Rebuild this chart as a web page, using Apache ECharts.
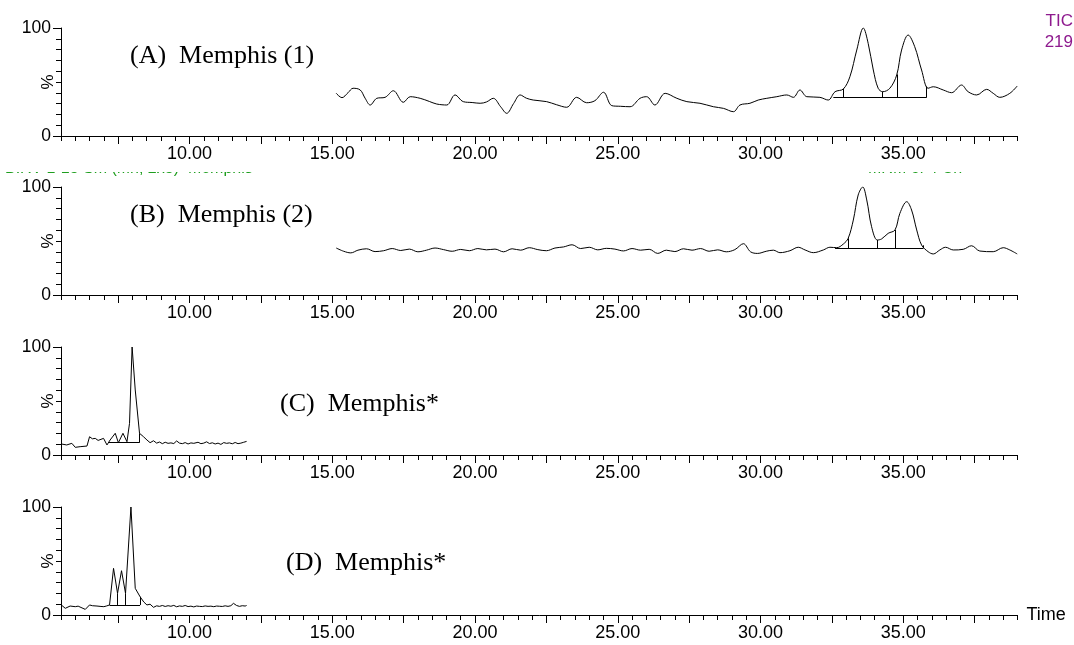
<!DOCTYPE html>
<html>
<head>
<meta charset="utf-8">
<script src="https://cdn.jsdelivr.net/npm/echarts@6/dist/echarts.min.js"></script>
<style>
  html, body { margin: 0; padding: 0; background: #fff; }
  #chart { width: 1074px; height: 645px; }
</style>
</head>
<body>
<div id="chart"></div>
<script>
// Retention time range (min) shared by all four chromatograms
const timeMin = 5.5;
const timeMax = 39.0;
const timeLabels = [10, 15, 20, 25, 30, 35];
const timeMajorTicks = [7.5, 10, 12.5, 15, 17.5, 20, 22.5, 25, 27.5, 30, 32.5, 35, 37.5];
const pctLabels = [0, 100];
const pctMinorTicks = [10, 20, 30, 40, 50, 60, 70, 80, 90];

const panelTitles = ['(A)  Memphis (1)', '(B)  Memphis (2)', '(C)  Memphis*', '(D)  Memphis*'];

// Panel A trace: [time, % intensity]
const traceA = [
  [15.14, 39.5], [15.34, 35.5], [15.55, 40.0], [15.73, 44.2], [15.98, 42.6], [16.15, 35.0],
  [16.33, 28.7], [16.56, 34.9], [16.85, 35.8], [17.14, 41.9], [17.49, 31.2], [17.73, 36.4],
  [18.08, 34.9], [18.40, 32.0], [18.66, 29.6], [19.01, 28.7], [19.30, 38.0], [19.59, 31.8],
  [19.90, 31.0], [20.18, 30.3], [20.40, 31.5], [20.64, 34.9], [20.90, 27.0], [21.11, 21.0],
  [21.35, 30.0], [21.58, 38.0], [21.80, 35.0], [22.04, 33.3], [22.51, 31.8], [22.85, 29.0],
  [23.21, 26.6], [23.56, 35.8], [23.91, 30.8], [24.20, 32.7], [24.50, 40.5], [24.79, 28.1],
  [25.10, 27.5], [25.43, 27.1], [25.78, 34.9], [26.01, 36.4], [26.30, 28.7], [26.66, 39.5],
  [27.07, 34.9], [27.42, 31.8], [27.88, 30.3], [28.35, 27.1], [28.70, 25.6], [29.05, 22.5],
  [29.28, 28.7], [29.63, 30.3], [29.92, 33.3], [30.22, 34.9], [30.57, 36.4], [30.92, 38.0],
  [31.15, 35.8], [31.38, 42.6], [31.62, 36.4], [32.08, 35.8], [32.37, 33.3], [32.61, 41.0],
  [32.90, 43.5], [33.13, 54.9], [33.37, 79.6], [33.60, 100], [33.77, 85.8], [33.95, 61.1],
  [34.12, 44.2], [34.28, 41.0], [34.53, 44.2], [34.77, 56.5], [34.94, 79.6], [35.17, 93.5],
  [35.40, 82.7], [35.64, 61.1], [35.87, 44.2], [36.05, 45.6], [36.40, 42.6], [36.69, 40.1],
  [37.04, 47.2], [37.27, 41.0], [37.57, 38.0], [37.92, 43.2], [38.15, 39.5], [38.38, 35.8],
  [38.73, 39.5], [38.99, 46.3]
];

// Panel B trace
const traceB = [
  [15.14, 43.5], [15.40, 40.5], [15.65, 39.0], [15.90, 41.5], [16.20, 42.8], [16.50, 40.2],
  [16.80, 41.0], [17.10, 43.0], [17.40, 41.2], [17.70, 42.5], [18.00, 40.0], [18.30, 41.5],
  [18.60, 43.5], [18.90, 42.0], [19.20, 40.5], [19.50, 42.2], [19.80, 41.0], [20.10, 43.0],
  [20.40, 41.8], [20.70, 42.5], [21.00, 40.0], [21.30, 42.8], [21.60, 41.5], [21.90, 43.8],
  [22.20, 42.0], [22.50, 41.0], [22.80, 43.5], [23.10, 44.5], [23.40, 46.5], [23.70, 43.0],
  [24.00, 44.2], [24.30, 41.8], [24.60, 43.2], [24.90, 42.5], [25.20, 40.8], [25.50, 43.0],
  [25.80, 41.5], [26.10, 42.3], [26.40, 38.5], [26.70, 41.5], [27.00, 40.2], [27.30, 42.8],
  [27.60, 41.5], [27.90, 43.0], [28.20, 40.5], [28.50, 41.8], [28.80, 40.0], [29.10, 42.0],
  [29.40, 47.5], [29.65, 40.0], [29.90, 38.5], [30.20, 40.5], [30.45, 41.5], [30.68, 39.2],
  [31.03, 41.0], [31.32, 44.2], [31.56, 41.7], [31.85, 39.2], [32.20, 41.7], [32.43, 44.2],
  [32.67, 43.8], [32.90, 47.2], [33.07, 52.5], [33.25, 69.4], [33.42, 92.6], [33.58, 100],
  [33.72, 88.0], [33.89, 63.2], [34.09, 50.9], [34.24, 51.9], [34.47, 57.1], [34.71, 60.2],
  [34.88, 75.6], [35.12, 86.4], [35.29, 78.7], [35.47, 60.2], [35.64, 46.3], [35.87, 40.1],
  [36.05, 38.0], [36.28, 41.7], [36.48, 44.2], [36.75, 41.7], [37.10, 42.3], [37.39, 45.6],
  [37.68, 40.7], [38.15, 40.1], [38.50, 43.8], [38.73, 41.7], [38.99, 38.0]
];

// Panel C trace
const traceC = [
  [5.51, 10.2], [5.70, 9.3], [5.88, 10.8], [6.00, 7.1], [6.17, 7.7], [6.41, 8.3], [6.50, 16.9],
  [6.60, 15.0], [6.70, 15.4], [6.80, 13.5], [6.87, 13.9], [6.99, 15.4], [7.11, 9.3], [7.22, 13.9],
  [7.40, 20.1], [7.51, 11.4], [7.67, 20.1], [7.81, 12.3], [7.90, 29.3], [7.99, 100], [8.10, 60.2],
  [8.25, 20.1], [8.39, 16.9], [8.51, 13.9], [8.62, 11.4], [8.74, 13.2], [8.85, 11.0], [8.95, 12.0],
  [9.05, 10.5], [9.15, 11.8], [9.25, 10.8], [9.35, 11.2], [9.45, 10.6], [9.55, 13.0], [9.65, 11.0],
  [9.75, 10.5], [9.85, 11.5], [9.95, 10.2], [10.05, 11.2], [10.15, 10.8], [10.30, 11.8], [10.40, 10.5],
  [10.50, 11.0], [10.60, 12.2], [10.70, 10.6], [10.80, 11.3], [10.90, 10.2], [11.00, 11.0], [11.10, 9.8],
  [11.20, 11.5], [11.30, 10.8], [11.40, 11.2], [11.50, 10.4], [11.60, 11.6], [11.70, 10.5], [11.80, 11.0],
  [11.90, 11.8], [12.00, 12.6]
];

// Panel D trace
const traceD = [
  [5.51, 9.3], [5.65, 6.2], [5.82, 8.3], [6.00, 7.7], [6.10, 8.2], [6.20, 7.0], [6.35, 5.2],
  [6.50, 9.3], [6.60, 8.6], [6.76, 8.3], [6.90, 7.9], [7.00, 7.7], [7.10, 8.4], [7.20, 9.3],
  [7.34, 43.2], [7.48, 20.1], [7.62, 41.0], [7.76, 20.1], [7.95, 100], [8.10, 24.7], [8.27, 16.9],
  [8.40, 12.0], [8.51, 9.3], [8.62, 10.0], [8.74, 7.1], [8.85, 8.5], [8.95, 8.0], [9.05, 8.8],
  [9.15, 7.9], [9.25, 8.6], [9.35, 8.1], [9.45, 8.9], [9.55, 7.6], [9.65, 8.4], [9.75, 8.0],
  [9.85, 8.8], [9.95, 7.8], [10.05, 8.2], [10.15, 7.5], [10.25, 8.3], [10.35, 8.0], [10.45, 7.8],
  [10.55, 8.4], [10.65, 8.0], [10.75, 8.2], [10.85, 7.7], [10.95, 8.3], [11.05, 8.1], [11.15, 7.9],
  [11.25, 8.5], [11.35, 8.0], [11.45, 8.6], [11.54, 10.8], [11.65, 8.8], [11.75, 8.0], [11.85, 8.6],
  [11.95, 8.3], [12.00, 8.8]
];

// Peak integration marks: baseline [t1, v1, t2, v2] and drop lines [t, vBase, vTop]
const baselineA = [32.55, 35.8, 35.82, 35.8];
const dropsA = [[32.90, 35.8, 43.5], [34.28, 35.8, 41.0], [34.79, 35.8, 57.0], [35.82, 35.8, 46.0]];
const baselineB = [32.61, 43.2, 35.70, 43.2];
const dropsB = [[33.07, 43.2, 52.5], [34.09, 43.2, 50.9], [34.71, 43.2, 60.2], [35.70, 43.2, 46.0]];
const baselineC = [7.16, 11.4, 8.25, 11.4];
const dropsC = [[8.25, 11.4, 20.1]];
const baselineD = [7.20, 9.3, 8.27, 9.3];
const dropsD = [[7.48, 9.3, 20.1], [7.76, 9.3, 20.1], [8.27, 9.3, 16.9]];

const traces = [traceA, traceB, traceC, traceD];
const baselines = [baselineA, baselineB, baselineC, baselineD];
const drops = [dropsA, dropsB, dropsC, dropsD];

// ---- layout ----
const SANS = '"Liberation Sans", Arial, sans-serif';
const SERIF = '"Liberation Serif", "Times New Roman", serif';
const gridTops = [28, 187, 347, 507];
const gridH = 108;
const smoothness = [0.35, 0.35, 0, 0];
const titlePos = [[130, 56], [130, 215], [280, 404], [286, 563]];

const timeMinorTicks = [];
for (let t = timeMin; t <= timeMax + 1e-9; t += 0.5) timeMinorTicks.push(+t.toFixed(1));

const grids = [], xAxes = [], yAxes = [], series = [], graphics = [];

gridTops.forEach((top, i) => {
  grids.push({ left: 61, right: 56.5, top: top, height: gridH,
    containLabel: false, outerBoundsMode: 'none' });

  // main time axis: line, long ticks, labels
  xAxes.push({
    type: 'value', gridIndex: i, min: timeMin, max: timeMax, position: 'bottom',
    axisLine: { show: true, onZero: false, lineStyle: { color: '#000', width: 1 } },
    axisTick: { show: true, length: 8, customValues: timeMajorTicks, lineStyle: { color: '#000', width: 1 } },
    axisLabel: { show: true, customValues: timeLabels, margin: 9, color: '#000',
      fontFamily: SANS, fontSize: 18, formatter: v => v.toFixed(2) },
    splitLine: { show: false },
    name: i === 3 ? 'Time' : '', nameLocation: 'end', nameGap: 9, nameMoveOverlap: false,
    nameTextStyle: { fontFamily: SANS, fontSize: 18, color: '#000', verticalAlign: 'middle' }
  });
  // half-minute ticks
  xAxes.push({
    type: 'value', gridIndex: i, min: timeMin, max: timeMax, position: 'bottom',
    axisLine: { show: false, onZero: false },
    axisTick: { show: true, length: 5, customValues: timeMinorTicks, lineStyle: { color: '#000', width: 1 } },
    axisLabel: { show: false }, splitLine: { show: false }
  });

  // intensity axis: 0 / 100 labels, long end ticks
  yAxes.push({
    type: 'value', gridIndex: i, min: 0, max: 100, position: 'left',
    axisLine: { show: true, onZero: false, lineStyle: { color: '#000', width: 1 } },
    axisTick: { show: true, length: 8, customValues: pctLabels, lineStyle: { color: '#000', width: 1 } },
    axisLabel: { show: true, customValues: pctLabels, margin: 10, color: '#000',
      fontFamily: SANS, fontSize: 17.5 },
    splitLine: { show: false },
    name: '%', nameLocation: 'middle', nameGap: 4, nameRotate: 90, nameMoveOverlap: false,
    nameTextStyle: { fontFamily: SANS, fontSize: 17, color: '#000' }
  });
  yAxes.push({
    type: 'value', gridIndex: i, min: 0, max: 100, position: 'left',
    axisLine: { show: false, onZero: false },
    axisTick: { show: true, length: 5, customValues: pctMinorTicks, lineStyle: { color: '#000', width: 1 } },
    axisLabel: { show: false }, splitLine: { show: false }
  });

  const b = baselines[i];
  const markData = [[{ coord: [b[0], b[1]] }, { coord: [b[2], b[3]] }]];
  drops[i].forEach(d => markData.push([{ coord: [d[0], d[1]] }, { coord: [d[0], d[2]] }]));

  series.push({
    type: 'line', xAxisIndex: 2 * i, yAxisIndex: 2 * i, data: traces[i],
    showSymbol: false, symbol: 'none', smooth: smoothness[i], silent: true,
    lineStyle: { color: '#000', width: 1 },
    markLine: {
      silent: true, symbol: ['none', 'none'], label: { show: false },
      lineStyle: { color: '#000', width: 1, type: 'solid' },
      data: markData
    }
  });

  graphics.push({
    type: 'text', x: titlePos[i][0], y: titlePos[i][1], z: 10,
    style: { text: panelTitles[i], font: '26px ' + SERIF, fill: '#000',
      textAlign: 'left', textVerticalAlign: 'middle', verticalAlign: 'middle' }
  });
});

// channel description of the upper trace; the header line of the second trace
// sits underneath the upper panel, so only its lowest strip shows
graphics.push(
  { type: 'text', x: 1073, y: 21, z: 10, style: { text: 'TIC', font: '17px ' + SANS, fill: '#8e1a8e',
    textAlign: 'right', textVerticalAlign: 'middle', verticalAlign: 'middle' } },
  { type: 'text', x: 1073, y: 42, z: 10, style: { text: '219', font: '17px ' + SANS, fill: '#8e1a8e',
    textAlign: 'right', textVerticalAlign: 'middle', verticalAlign: 'middle' } },
  { type: 'text', x: 5, y: 161, z: -2, style: { text: 'B.RV 1-13 Sm (Mn, 2x3)  Memphis', font: '16px ' + SANS,
    fill: '#1e9e1e', textAlign: 'left', textVerticalAlign: 'top', verticalAlign: 'top' } },
  { type: 'text', x: 868, y: 161, z: -2, style: { text: 'MRM of 4 Ch', font: '16px ' + SANS,
    fill: '#1e9e1e', textAlign: 'left', textVerticalAlign: 'top', verticalAlign: 'top' } },
  { type: 'rect', z: -1, shape: { x: 0, y: 140, width: 1074, height: 32 }, style: { fill: '#fff' } }
);

const chart = echarts.init(document.getElementById('chart'), null, { renderer: 'canvas' });
chart.setOption({
  animation: false,
  backgroundColor: '#fff',
  grid: grids, xAxis: xAxes, yAxis: yAxes, series: series, graphic: graphics
});
</script>
</body>
</html>
